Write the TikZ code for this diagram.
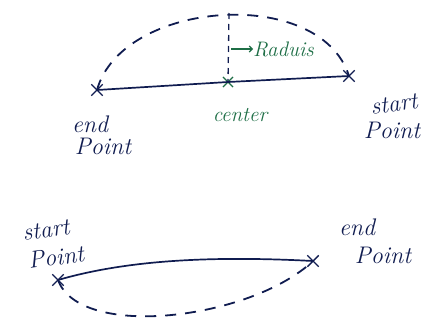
\documentclass[tikz,border=0pt]{standalone}
\usetikzlibrary{shapes.misc,arrows.meta}
\definecolor{ink}{HTML}{101C50}
\definecolor{gink}{HTML}{1E6E46}
\begin{document}
\begin{tikzpicture}[x=1pt,y=-1pt,
  xmark/.style={cross out,draw=ink,line width=1.4pt,minimum size=10pt,inner sep=0pt},
  gxmark/.style={cross out,draw=gink,line width=1.1pt,minimum size=9pt,inner sep=0pt},
  solidline/.style={draw=ink,line width=1.7pt},
  dashline/.style={draw=ink,line width=1.8pt,dash pattern=on 11pt off 9pt},
  lbl/.style={text=ink,font=\fontsize{24}{24}\selectfont\itshape,inner sep=0pt},
  glbl/.style={text=gink,font=\fontsize{21}{21}\selectfont\itshape,inner sep=0pt}]
\useasboundingbox (0,0) rectangle (433,327);
% top figure
\node[xmark] (e1) at (97,90) {};
\node[gxmark] (c1) at (228,82) {};
\node[xmark] (s1) at (349,76) {};
\coordinate (top) at (229,13);
\draw[solidline] (e1.center) -- (c1.center) -- (s1.center);
\draw[dashline] (e1.center) .. controls (122,0) and (320,-15) .. (s1.center);
\draw[draw=ink,line width=1.3pt,dash pattern=on 6pt off 5pt] (top) -- (c1.center);
\coordinate (ra) at (231,49);
\node[glbl,anchor=west] (rad) at (253,49) {Raduis};
\draw[gink,line width=1.1pt,-{Straight Barb[length=3pt]}] (ra) -- (rad.west);
\node[glbl] (cl) at (240,115) {center};
\node[lbl] (el1) at (90,124) {end};
\node[lbl] (el2) at (103,146) {Point};
\node[lbl,rotate=8] (sl1) at (394,104) {start};
\node[lbl] (sl2) at (392,130) {Point};
% bottom figure
\node[xmark] (s2) at (58,280) {};
\node[xmark] (e2) at (313,261) {};
\draw[solidline] (e2.center) .. controls (200,255) and (120,262) .. (s2.center);
\draw[dashline] (s2.center) .. controls (80,340) and (250,320) .. (e2.center);
\node[lbl,rotate=8] (sl3) at (46,230) {start};
\node[lbl,rotate=8] (sl4) at (56,257) {Point};
\node[lbl] (el3) at (357,227) {end};
\node[lbl] (el4) at (383,255) {Point};
\end{tikzpicture}
\end{document}
